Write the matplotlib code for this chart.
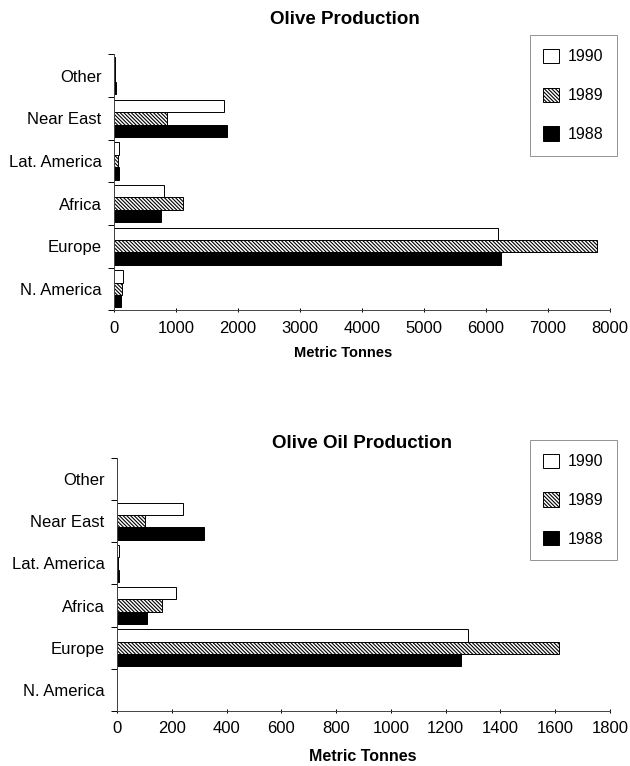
import numpy as np
import matplotlib.pyplot as plt
from matplotlib.patches import Patch

plt.rcParams['font.family'] = ['Liberation Sans', 'DejaVu Sans']
plt.rcParams['hatch.linewidth'] = 0.8

regions = ['N. America', 'Europe', 'Africa', 'Lat. America', 'Near East', 'Other']
years = ['1990', '1989', '1988']

# olive production, metric tonnes (thousands)
olive_1990 = [150, 6190, 800, 80, 1780, 20]
olive_1989 = [130, 7800, 1120, 70, 850, 10]
olive_1988 = [110, 6240, 750, 75, 1830, 30]

# olive oil production
oil_1990 = [0, 1280, 215, 5, 240, 0]
oil_1989 = [0, 1615, 165, 4, 100, 0]
oil_1988 = [0, 1255, 108, 6, 316, 0]

styles = [dict(facecolor='white', hatch=None),
          dict(facecolor='white', hatch='\\' * 9),
          dict(facecolor='black', hatch=None)]

fig = plt.figure(figsize=(6.3, 7.66), dpi=100)


def draw(ax, series, xmax, step):
    y = np.arange(len(regions))
    h = 0.29
    offsets = [h, 0, -h]
    for vals, off, st in zip(series, offsets, styles):
        ax.barh(y + off, vals, height=h, color=st['facecolor'],
                edgecolor='black', linewidth=0.7, hatch=st['hatch'])
    ax.set_xlim(0, xmax)
    ax.set_ylim(-0.5, len(regions) - 0.5)
    ax.set_xticks(np.arange(0, xmax + 1, step))
    ax.set_yticks(y)
    ax.set_yticklabels(regions, fontsize=12)
    ax.set_yticks(np.arange(-0.5, len(regions), 1), minor=True)
    ax.tick_params(axis='y', which='major', length=0, pad=9)
    ax.tick_params(axis='y', which='minor', length=4, direction='out', width=0.7)
    ax.tick_params(axis='x', length=3, direction='inout', width=0.7, labelsize=12, pad=6)
    for s in ['top', 'right']:
        ax.spines[s].set_visible(False)
    for s in ['left', 'bottom']:
        ax.spines[s].set_linewidth(0.7)
        ax.spines[s].set_color('#444444')


ax1 = fig.add_axes([0.181, 0.595, 0.787, 0.334])
draw(ax1, [olive_1990, olive_1989, olive_1988], 8000, 1000)
fig.text(0.548, 0.975, 'Olive Production', ha='center', va='center',
         fontsize=13.5, fontweight='bold')
fig.text(0.545, 0.539, 'Metric Tonnes', ha='center', va='center',
         fontsize=10.5, fontweight='bold')

ax2 = fig.add_axes([0.186, 0.072, 0.782, 0.330])
draw(ax2, [oil_1990, oil_1989, oil_1988], 1800, 200)
fig.text(0.575, 0.421, 'Olive Oil Production', ha='center', va='center',
         fontsize=13.5, fontweight='bold')
fig.text(0.576, 0.012, 'Metric Tonnes', ha='center', va='center',
         fontsize=11.5, fontweight='bold')

handles = [Patch(facecolor=st['facecolor'], edgecolor='black', linewidth=0.7,
                 hatch=st['hatch']) for st in styles]
for top in [0.954, 0.4256]:
    leg = fig.legend(handles, years, loc='upper right',
                     bbox_to_anchor=(0.979, top), fontsize=11.5,
                     handlelength=1.0, handleheight=1.0, labelspacing=1.45,
                     borderpad=0.85, handletextpad=0.5, fancybox=False,
                     borderaxespad=0)
    leg.get_frame().set_edgecolor('#777777')
    leg.get_frame().set_linewidth(0.7)

fig.savefig('out.png', dpi=100)
